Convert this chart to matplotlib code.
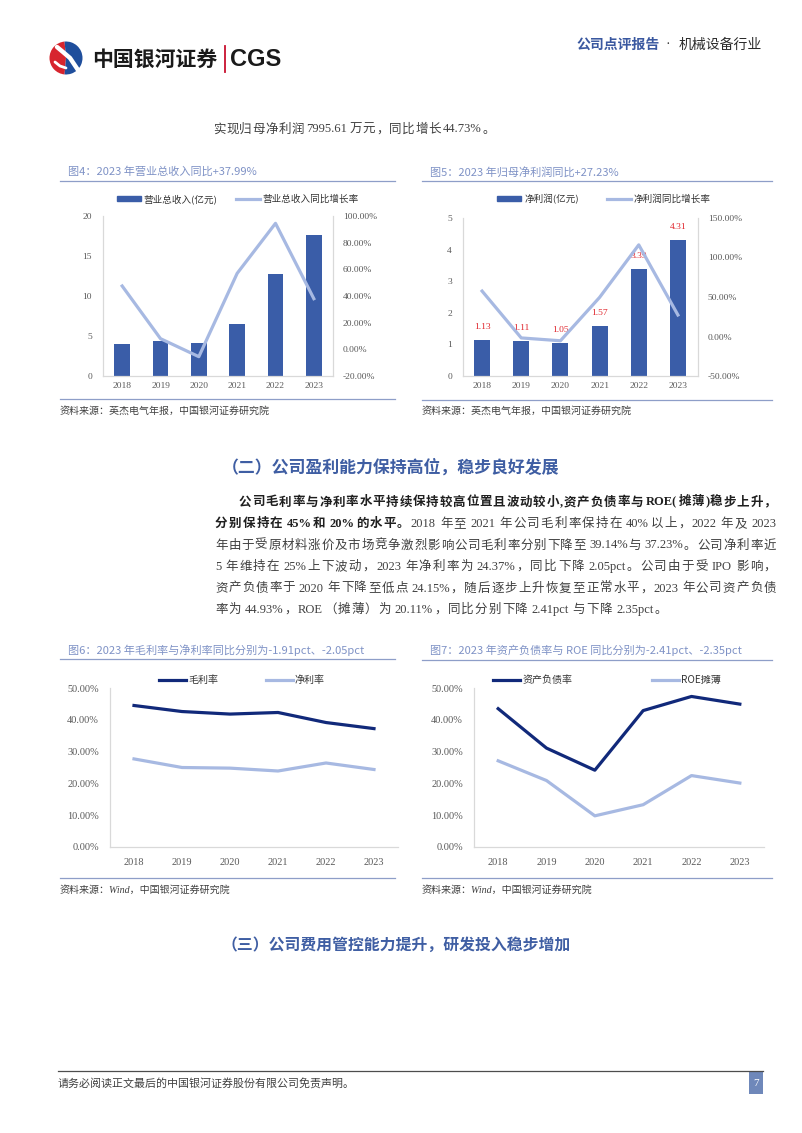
import matplotlib
matplotlib.use('Agg')
import numpy as np
import matplotlib.pyplot as plt
import matplotlib.transforms as mtransforms
from matplotlib.patches import Rectangle, Wedge, Patch
from matplotlib.lines import Line2D
from matplotlib.ticker import FuncFormatter

# ---------------- data ----------------
years = ['2018', '2019', '2020', '2021', '2022', '2023']
revenue = [3.96, 4.37, 4.08, 6.54, 12.75, 17.60]          # 营业总收入(亿元)
revenue_yoy = [47.5, 8.0, -5.5, 57.0, 94.5, 37.99]       # 同比增长率 %
profit = [1.13, 1.11, 1.05, 1.57, 3.39, 4.31]             # 净利润(亿元)
profit_yoy = [57.5, -1.8, -5.4, 49.5, 116.0, 27.23]      # 同比增长率 %
gross_margin = [44.5, 42.6, 41.8, 42.3, 39.14, 37.23]    # 毛利率 %
net_margin = [27.7, 25.0, 24.8, 23.9, 26.42, 24.37]      # 净利率 %
debt_ratio = [43.5, 31.1, 24.15, 42.9, 47.34, 44.93]     # 资产负债率 %
roe = [27.1, 20.9, 9.8, 13.3, 22.46, 20.11]              # ROE摊薄 %

rev_left_ticks = [0, 5, 10, 15, 20]
rev_right_ticks = [-20, 0, 20, 40, 60, 80, 100]
prof_left_ticks = [0, 1, 2, 3, 4, 5]
prof_right_ticks = [-50, 0, 50, 100, 150]
pct_ticks = [0, 10, 20, 30, 40, 50]

# ---------------- setup ----------------
W, H, DPI = 802, 1133, 100
fig = plt.figure(figsize=(W / DPI, H / DPI), dpi=DPI)
fig.patch.set_facecolor('white')
PX = mtransforms.Affine2D().scale(1 / W, -1 / H).translate(0, 1) + fig.transFigure

CJK = 'Noto Sans CJK SC'
SERIF_MIX = ['Liberation Serif', 'Noto Sans CJK SC']
BAR = '#3A5DA8'
LIGHT = '#A7B9E2'
DARK = '#11297A'
TITLE_C = '#7F92C6'
RULE_C = '#8E9EC8'
SPINE_C = '#D9D9D9'
TICK_C = '#595959'


def rect_px(l, t, r, b):
    return [l / W, 1 - b / H, (r - l) / W, (b - t) / H]


def fxy(x, y):
    return (x / W, 1 - y / H)


def is_cjk(ch):
    return ord(ch) > 0x2E80


def tokens_of(segments):
    out = []
    for seg, bold in segments:
        run = ''
        for ch in seg:
            if ch == ' ' or is_cjk(ch):
                if run:
                    out.append((run, bold))
                    run = ''
                out.append((ch, bold))
            else:
                run += ch
        if run:
            out.append((run, bold))
    return out


renderer = fig.canvas.get_renderer()


def draw_line(segments, x0, yc, x1=None, gap=1.0, fs=9.0, color='#404040',
              bcolor='#1F1F1F', family=SERIF_MIX):
    fs_px = fs * DPI / 72
    toks = tokens_of(segments)
    arts, widths = [], []
    for s, b in toks:
        if s == ' ':
            arts.append(None)
            widths.append(0.12 * fs_px)
        else:
            t = fig.text(0, 0, s, transform=PX, fontsize=fs, family=family,
                         fontweight='bold' if b else 'normal',
                         color=bcolor if b else color, va='baseline', ha='left')
            arts.append(t)
            widths.append(t.get_window_extent(renderer).width)
    if x1 is not None and len(toks) > 1:
        gap = (x1 - x0 - sum(widths)) / (len(toks) - 1)
    x = x0
    base = yc + 0.36 * fs_px
    for a, w in zip(arts, widths):
        if a is not None:
            a.set_position((x, base))
        x += w + gap
    return gap


def hline(x0, x1, y, color, lw=0.8):
    fig.add_artist(Line2D([x0, x1], [y, y], transform=PX, color=color, lw=lw))


# ---------------- header ----------------
fig.add_artist(Wedge((66, 58), 16.5, 95, 265, transform=PX, color='#D7252E', lw=0))
fig.add_artist(Wedge((66, 58), 16.5, 265, 455, transform=PX, color='#1F4E9C', lw=0))
fig.add_artist(Line2D([57, 63, 70, 74, 78], [47, 52, 58, 64, 70], transform=PX,
                      color='white', lw=3.2, solid_capstyle='round'))
fig.add_artist(Line2D([55, 60, 66], [62, 66, 68], transform=PX,
                      color='white', lw=2.0, solid_capstyle='round'))
fig.text(92, 59, '中国银河证券', transform=PX, family=CJK, fontweight='bold',
         fontsize=15, color='#1A1A1A', va='center', ha='left')
fig.add_artist(Line2D([225, 225], [46, 72], transform=PX, color='#C8102E', lw=1.3))
fig.text(230, 59, 'CGS', transform=PX, family='Liberation Sans', fontweight='bold',
         fontsize=17, color='#1A1A1A', va='center', ha='left')
fig.text(576, 45, '公司点评报告', transform=PX, family=CJK, fontweight='bold',
         fontsize=10, color='#3A58A0', va='center', ha='left')
fig.text(668, 45, '·', transform=PX, family='Liberation Serif', fontsize=10,
         color='#333333', va='center', ha='center')
fig.text(679, 45, '机械设备行业', transform=PX, family=CJK, fontsize=10,
         color='#2B2B2B', va='center', ha='left')

# intro line
draw_line([('实现归母净利润 7995.61 万元，同比增长 44.73%。', False)], 213, 128, x1=495)


# ---------------- chart helpers ----------------
def style_ax(ax, fs, lpad, bpad, spines=('left', 'bottom')):
    for s in ['left', 'right', 'top', 'bottom']:
        ax.spines[s].set_visible(s in spines)
        ax.spines[s].set_color(SPINE_C)
        ax.spines[s].set_linewidth(0.9)
    ax.tick_params(axis='both', length=0, labelsize=fs, labelcolor=TICK_C)
    ax.tick_params(axis='y', pad=lpad)
    ax.tick_params(axis='x', pad=bpad)
    for lab in ax.get_xticklabels() + ax.get_yticklabels():
        lab.set_family('Liberation Serif')
    ax.set_facecolor('none')


pct_fmt = FuncFormatter(lambda v, p: f'{v:.2f}%')
xpos = np.arange(len(years))


def panel_frame(x0, x1, title, ytitle, yrule, ysrc_rule, ysrc, src):
    fig.text(x0 + 8, ytitle, title, transform=PX, family=CJK, fontsize=8,
             color=TITLE_C, va='center', ha='left')
    hline(x0, x1, yrule, RULE_C, 0.9)
    hline(x0, x1, ysrc_rule, RULE_C, 0.9)
    fig.text(x0, ysrc, src, transform=PX, family=SERIF_MIX, style='italic',
             fontsize=7.2, color='#404040', va='center', ha='left')


# ---------------- chart 4 ----------------
panel_frame(60, 395, '图4：2023 年营业总收入同比+37.99%', 172, 181, 399, 411,
            '资料来源：英杰电气年报，中国银河证券研究院')
ax4 = fig.add_axes(rect_px(103, 216, 333, 376))
ax4.bar(xpos, revenue, width=0.4, color=BAR, zorder=2)
ax4.set_xlim(-0.5, 5.5)
ax4.set_ylim(0, 20)
ax4.set_yticks(rev_left_ticks)
ax4.set_xticks(xpos)
ax4.set_xticklabels(years)
ax4b = ax4.twinx()
ax4b.plot(xpos, revenue_yoy, color=LIGHT, lw=2.3)
ax4b.set_ylim(-20, 100)
ax4b.set_yticks(rev_right_ticks)
ax4b.yaxis.set_major_formatter(pct_fmt)
style_ax(ax4, 6.8, 8, 4)
style_ax(ax4b, 6.8, 7, 4, spines=('right',))
fig.legend([Patch(color=BAR), Line2D([], [], color=LIGHT, lw=2.3)],
           ['营业总收入(亿元)', '营业总收入同比增长率'], loc='center',
           bbox_to_anchor=fxy(238, 199), ncol=2, frameon=False,
           prop={'family': CJK, 'size': 6.9}, labelcolor='#333333',
           handlelength=2.5, handleheight=0.45, handletextpad=0.3, columnspacing=1.9)

# ---------------- chart 5 ----------------
panel_frame(422, 772, '图5：2023 年归母净利润同比+27.23%', 172, 181, 400, 411,
            '资料来源：英杰电气年报，中国银河证券研究院')
ax5 = fig.add_axes(rect_px(462.5, 218, 697.5, 376))
ax5.bar(xpos, profit, width=0.41, color=BAR, zorder=2)
for i, v in enumerate(profit):
    ax5.annotate(f'{v:.2f}', (xpos[i], v), xytext=(0, 9.5), textcoords='offset points',
                 ha='center', va='center', color='#E0262D', fontsize=6.8,
                 family='Liberation Serif')
ax5.set_xlim(-0.5, 5.5)
ax5.set_ylim(0, 5)
ax5.set_yticks(prof_left_ticks)
ax5.set_xticks(xpos)
ax5.set_xticklabels(years)
ax5b = ax5.twinx()
ax5b.plot(xpos, profit_yoy, color=LIGHT, lw=2.3)
ax5b.set_ylim(-50, 150)
ax5b.set_yticks(prof_right_ticks)
ax5b.yaxis.set_major_formatter(pct_fmt)
style_ax(ax5, 6.8, 7.5, 4)
style_ax(ax5b, 6.8, 7.5, 4, spines=('right',))
fig.legend([Patch(color=BAR), Line2D([], [], color=LIGHT, lw=2.3)],
           ['净利润(亿元)', '净利润同比增长率'], loc='center',
           bbox_to_anchor=fxy(604, 199), ncol=2, frameon=False,
           prop={'family': CJK, 'size': 6.9}, labelcolor='#333333',
           handlelength=2.5, handleheight=0.45, handletextpad=0.3, columnspacing=2.9)

# ---------------- section heading + paragraph ----------------
fig.text(222, 468, '（二）公司盈利能力保持高位，稳步良好发展', transform=PX, family=CJK,
         fontweight='bold', fontsize=12.2, color='#3F5EA3', va='center', ha='left')

para = [
    [('公司毛利率与净利率水平持续保持较高位置且波动较小,资产负债率与 ROE(摊薄)稳步上升，', True)],
    [('分别保持在 45%和 20%的水平。', True),
     ('2018 年至 2021 年公司毛利率保持在 40%以上，2022 年及 2023', False)],
    [('年由于受原材料涨价及市场竞争激烈影响公司毛利率分别下降至 39.14%与 37.23%。公司净利率近', False)],
    [('5 年维持在 25%上下波动，2023 年净利率为 24.37%，同比下降 2.05pct。公司由于受 IPO 影响，', False)],
    [('资产负债率于 2020 年下降至低点 24.15%，随后逐步上升恢复至正常水平，2023 年公司资产负债', False)],
    [('率为 44.93%，ROE（摊薄）为 20.11%，同比分别下降 2.41pct 与下降 2.35pct。', False)],
]
line_y = [501, 522.5, 544, 565.5, 587, 608.5]
gaps = []
for k, segs in enumerate(para):
    x0 = 239 if k == 0 else 215
    if k < len(para) - 1:
        gaps.append(draw_line(segs, x0, line_y[k], x1=776))
    else:
        draw_line(segs, x0, line_y[k], gap=float(np.mean(gaps[1:])))

# ---------------- chart 6 ----------------
panel_frame(60, 395, '图6：2023 年毛利率与净利率同比分别为-1.91pct、-2.05pct', 650, 659, 878, 890,
            '资料来源：Wind，中国银河证券研究院')
ax6 = fig.add_axes(rect_px(110, 688, 398, 847))
ax6.plot(xpos, gross_margin, color=DARK, lw=2.3)
ax6.plot(xpos, net_margin, color=LIGHT, lw=2.3)
ax6.set_xlim(-0.5, 5.5)
ax6.set_ylim(0, 50)
ax6.set_yticks(pct_ticks)
ax6.yaxis.set_major_formatter(pct_fmt)
ax6.set_xticks(xpos)
ax6.set_xticklabels(years)
style_ax(ax6, 7.4, 8, 8)
fig.legend([Line2D([], [], color=DARK, lw=2.3), Line2D([], [], color=LIGHT, lw=2.3)],
           ['毛利率', '净利率'], loc='center', bbox_to_anchor=fxy(242, 680), ncol=2,
           frameon=False, prop={'family': CJK, 'size': 7.2}, labelcolor='#333333',
           handlelength=2.7, handletextpad=0.2, columnspacing=4.8)

# ---------------- chart 7 ----------------
panel_frame(422, 772, '图7：2023 年资产负债率与 ROE 同比分别为-2.41pct、-2.35pct', 650, 660, 878, 890,
            '资料来源：Wind，中国银河证券研究院')
ax7 = fig.add_axes(rect_px(474, 688, 764, 847))
ax7.plot(xpos, debt_ratio, color=DARK, lw=2.3)
ax7.plot(xpos, roe, color=LIGHT, lw=2.3)
ax7.set_xlim(-0.5, 5.5)
ax7.set_ylim(0, 50)
ax7.set_yticks(pct_ticks)
ax7.yaxis.set_major_formatter(pct_fmt)
ax7.set_xticks(xpos)
ax7.set_xticklabels(years)
style_ax(ax7, 7.4, 8, 8)
fig.legend([Line2D([], [], color=DARK, lw=2.3), Line2D([], [], color=LIGHT, lw=2.3)],
           ['资产负债率', 'ROE摊薄'], loc='center', bbox_to_anchor=fxy(607, 680), ncol=2,
           frameon=False, prop={'family': CJK, 'size': 7.2}, labelcolor='#333333',
           handlelength=2.7, handletextpad=0.2, columnspacing=8.0)

# ---------------- section 3 + footer ----------------
fig.text(222, 945, '（三）公司费用管控能力提升，研发投入稳步增加', transform=PX, family=CJK,
         fontweight='bold', fontsize=11.4, color='#3F5EA3', va='center', ha='left')
hline(58, 763, 1071, '#4D4D4D', 0.9)
fig.text(58, 1083, '请务必阅读正文最后的中国银河证券股份有限公司免责声明。', transform=PX,
         family=CJK, fontsize=7.9, color='#404040', va='center', ha='left')
fig.add_artist(Rectangle((749, 1072), 14, 22, transform=PX, color='#6F88BA', lw=0))
fig.text(756, 1083, '7', transform=PX, family='Liberation Serif', fontsize=8,
         color='white', va='center', ha='center')

fig.savefig('out.png', dpi=DPI, facecolor='white')
